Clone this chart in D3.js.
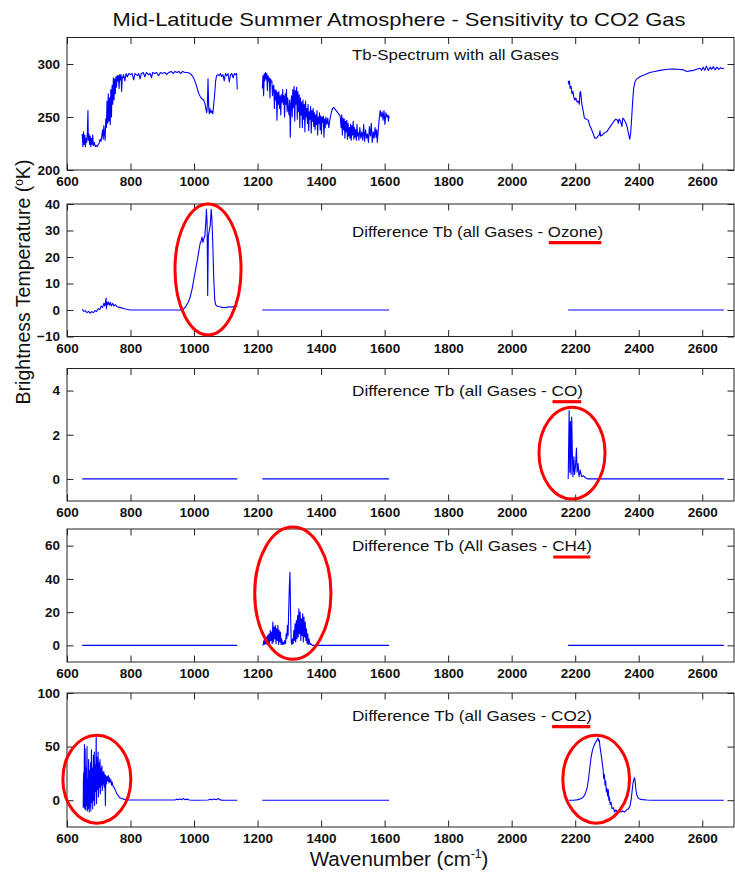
<!DOCTYPE html>
<html>
<head>
<meta charset="utf-8">
<script src="https://cdn.jsdelivr.net/npm/d3@7"></script>
<style>
  body { margin: 0; background: #fff; }
  text { font-family: "Liberation Sans", Arial, sans-serif; fill: #111; }
</style>
</head>
<body>
<div id="chart"></div>
<script>
// ---- data ----
const xTicks = [600, 800, 1000, 1200, 1400, 1600, 1800, 2000, 2200, 2400, 2600];

// Tb spectrum, all gases: three measured bands
const tbBandA = [[648,234],[650,222],[652,236],[654,224],[656,233],[658,222],[660,230],[662,226],[664,235],[666,256],[667,228],[669,234],[671,224],[673,232],[675,222],[677,230],[679,224],[681,233],[683,223],[686,226],[689,222],[692,223],[695,222],[698,224],[701,225],[704,229],[707,227],[710,233],[712,238],[714,229],[716,242],[718,234],[720,228],[722,248],[724,240],[726,265],[728,244],[730,272],[732,246],[734,268],[736,243],[738,276],[740,250],[742,280],[744,262],[746,287],[748,266],[750,286],[752,272],[754,288],[756,278],[758,289],[760,284],[762,289],[764,277],[766,290],[768,285],[770,290],[772,274],[774,288],[776,287],[778,290],[782,284],[786,291],[790,288],[795,291],[800,290],[805,291],[810,285],[814,291],[818,290],[822,289],[826,291],[830,286],[834,291],[840,292],[845,288],[850,292],[856,290],[862,291],[866,287],[870,292],[876,291],[882,292],[888,289],[894,292],[900,291],[908,292],[914,290],[920,292],[928,293],[934,291],[940,293],[946,292],[952,293],[958,291],[964,293],[972,292],[980,292],[988,291],[994,289],[1000,286],[1005,282],[1010,277],[1015,272],[1020,269],[1025,267],[1030,266],[1034,263],[1037,258],[1040,254],[1042,262],[1044,286],[1046,260],[1048,253],[1050,258],[1053,254],[1056,256],[1059,253],[1062,262],[1065,272],[1068,284],[1071,289],[1075,290],[1079,289],[1083,291],[1087,288],[1091,290],[1095,284],[1099,291],[1103,289],[1107,291],[1111,283],[1115,290],[1119,291],[1123,287],[1127,291],[1131,290],[1134,291],[1136,276]];
const tbBandB = [[1215,277],[1217,289],[1219,270],[1221,291],[1223,284],[1225,292],[1227,286],[1229,291],[1231,275],[1233,289],[1235,284],[1237,287],[1239,268],[1241,286],[1243,283],[1245,284],[1247,270],[1249,279],[1251,280],[1253,258],[1255,276],[1257,266],[1259,275],[1261,247],[1263,273],[1265,262],[1267,274],[1269,258],[1271,270],[1273,252],[1275,271],[1277,264],[1279,276],[1281,262],[1283,270],[1285,250],[1287,272],[1289,262],[1291,276],[1293,255],[1295,268],[1297,258],[1299,252],[1301,266],[1303,231],[1305,262],[1307,270],[1309,250],[1311,276],[1313,259],[1315,279],[1317,246],[1319,275],[1321,262],[1323,278],[1325,248],[1327,274],[1329,255],[1331,271],[1333,240],[1335,268],[1337,252],[1339,264],[1341,240],[1343,266],[1345,248],[1347,262],[1349,236],[1351,265],[1353,250],[1355,258],[1357,244],[1359,262],[1361,237],[1363,255],[1365,248],[1367,260],[1369,235],[1371,256],[1373,246],[1375,258],[1377,241],[1379,254],[1381,238],[1383,252],[1385,243],[1387,256],[1389,233],[1391,250],[1393,244],[1395,254],[1397,238],[1399,251],[1401,234],[1403,250],[1405,245],[1407,251],[1409,231],[1411,248],[1413,240],[1415,250],[1418,243],[1421,249],[1424,240],[1428,248],[1432,254],[1436,258],[1440,259],[1445,257],[1450,255],[1455,253],[1460,251],[1463,240],[1465,252],[1467,233],[1469,249],[1471,238],[1473,248],[1475,230],[1477,246],[1479,236],[1481,247],[1483,229],[1485,244],[1487,232],[1489,240],[1491,230],[1493,243],[1495,228],[1497,242],[1499,233],[1501,246],[1503,229],[1505,240],[1507,231],[1509,238],[1511,228],[1513,243],[1515,232],[1517,235],[1519,228],[1522,240],[1525,230],[1528,236],[1531,228],[1534,243],[1537,227],[1540,238],[1543,230],[1546,234],[1549,226],[1552,241],[1555,232],[1558,244],[1561,226],[1564,236],[1567,230],[1570,240],[1573,231],[1575,238],[1577,226],[1580,238],[1583,248],[1586,256],[1589,250],[1592,255],[1595,247],[1598,256],[1601,243],[1604,254],[1607,250],[1610,252],[1612,246],[1614,251]];
const tbBandC = [[2178,284],[2180,281],[2182,284],[2184,277],[2187,279],[2190,272],[2193,274],[2196,268],[2199,266],[2202,268],[2206,264],[2210,265],[2213,262],[2215,273],[2217,274],[2219,268],[2221,262],[2225,256],[2229,249],[2235,248],[2241,247],[2246,242],[2252,238],[2257,234],[2262,230],[2267,230],[2272,232],[2276,233],[2278,237],[2280,232],[2285,233],[2292,235],[2299,236],[2306,239],[2315,243],[2322,246],[2328,248],[2333,247],[2336,244],[2338,248],[2343,246],[2347,241],[2350,249],[2355,247],[2360,244],[2364,240],[2368,234],[2372,229],[2375,236],[2378,250],[2381,265],[2384,277],[2388,283],[2394,286],[2404,288],[2420,290],[2435,292],[2450,293],[2467,294],[2490,295],[2509,295.3],[2525,295],[2540,294.5],[2551,293],[2562,293.5],[2572,294],[2582,295],[2593,296],[2598,294],[2603,297],[2608,294],[2613,298],[2619,294],[2625,297],[2630,295],[2635,297.5],[2640,294.5],[2646,297],[2652,295],[2658,296.5],[2664,295.5],[2668,296]];

// flat (zero difference) bands
const zeroA = [[648,0],[1136,0]];
const zeroB = [[1215,0],[1614,0]];
const zeroC = [[2178,0],[2668,0]];

// difference all gases - ozone
const ozoneBandA = [[648,0.2],[653,-0.5],[658,-0.3],[663,-1],[668,-0.5],[673,-1.2],[678,-0.6],[683,-1],[688,-0.2],[693,-0.6],[698,0.5],[703,0.2],[708,1.5],[712,1],[716,2.5],[719,1.5],[721,3],[723,4.5],[724,0.5],[726,3],[728,2],[731,3],[734,1.8],[737,2.8],[740,1.5],[744,2.5],[748,1.5],[752,2],[758,1.2],[765,1],[772,0.8],[780,0.5],[790,0.2],[800,0],[960,0],[968,0.5],[975,1.5],[982,3],[988,5],[994,8],[1000,12],[1006,16],[1012,20],[1016,23],[1019,25],[1022,26],[1025,27.5],[1028,25.5],[1031,27],[1034,28],[1037,33],[1039,38],[1041,33],[1043,5.5],[1045,28],[1048,30],[1051,32],[1054,38],[1056,35],[1059,25],[1062,12],[1065,4],[1068,2],[1072,1.5],[1080,1.2],[1090,1],[1100,0.9],[1110,1.2],[1120,1.1],[1128,1.5],[1136,1.3]];

// difference all gases - CO
const coBandC = [[2178,0],[2181,3.1],[2183,0.3],[2185,2.6],[2187,0.2],[2189,2.8],[2191,1.2],[2193,0.1],[2196,1.0],[2198,0.2],[2201,0.6],[2204,1.4],[2206,0.3],[2209,0.7],[2212,0.1],[2216,0.4],[2220,0.1],[2226,0.15],[2232,0.05],[2240,0],[2668,0]];

// difference all gases - CH4
const ch4BandB = [[1215,0],[1218,0.5],[1220,3],[1222,0.5],[1224,4],[1226,1],[1228,5],[1230,0.5],[1232,6],[1234,2],[1236,7],[1238,1],[1240,9],[1242,3],[1244,8],[1246,1],[1248,14],[1250,2],[1252,11],[1254,4],[1256,12],[1258,1],[1260,10],[1262,3],[1264,12],[1266,0.5],[1268,9],[1270,2],[1272,8],[1274,0.5],[1276,4],[1278,0.5],[1280,2],[1283,0.5],[1286,3],[1288,1],[1290,7],[1292,4],[1294,12],[1296,6],[1298,21],[1300,35],[1302,44],[1304,18],[1306,2],[1308,0.5],[1310,4],[1312,1],[1314,9],[1316,3],[1318,13],[1320,2],[1322,15],[1324,4],[1326,18],[1328,5],[1330,22],[1332,7],[1334,20],[1336,3],[1338,16],[1340,6],[1342,19],[1344,2],[1346,17],[1348,5],[1350,14],[1352,3],[1354,10],[1356,1],[1358,7],[1360,0.5],[1362,4],[1365,0.5],[1368,1],[1372,0],[1614,0]];

// difference all gases - CO2
const co2BandA = [[651,-7],[652,25],[653,-6],[655,52],[656,-8],[657,48],[659,-9],[660,30],[661,-5],[663,50],[664,-10],[666,20],[667,-8],[668,38],[670,-11],[671,28],[672,-6],[674,35],[675,-10],[677,47],[678,-2],[680,30],[681,-8],[683,42],[684,0],[686,45],[687,-5],[689,33],[690,8],[692,60],[693,-3],[695,40],[696,10],[698,45],[699,3],[701,35],[702,12],[704,38],[705,6],[707,30],[708,14],[710,32],[711,9],[713,26],[714,15],[716,27],[717,12],[719,24],[721,-5],[722,23],[724,15],[726,22],[728,18],[730,23],[732,16],[734,21],[736,17],[738,19],[740,14],[742,17],[745,13],[748,12],[751,10],[754,8],[757,6],[760,5],[764,3],[768,2],[772,1.5],[778,1],[785,0.5],[795,0.3],[810,0.2],[940,0.2],[945,1],[950,0.4],[955,1.2],[960,0.5],[966,1.5],[972,0.4],[978,1],[985,0.2],[1000,0],[1045,0.2],[1050,0.8],[1057,0.4],[1063,1.2],[1070,0.5],[1076,1.6],[1082,0.3],[1090,0],[1136,0]];
const co2BandC = [[2180,0],[2195,0],[2205,0.3],[2215,1],[2222,2],[2228,4],[2233,7],[2238,12],[2242,20],[2246,30],[2250,40],[2254,46],[2258,50],[2261,52],[2264,54],[2267,55],[2270,57],[2272,58],[2274,55],[2276,56],[2278,50],[2280,46],[2283,40],[2286,33],[2288,28],[2290,20],[2292,24],[2294,14],[2296,18],[2298,8],[2300,11],[2302,4],[2304,10],[2306,0],[2308,3],[2310,-4],[2313,-2],[2316,-8],[2320,-7],[2324,-11],[2328,-9],[2332,-11],[2338,-10],[2344,-11],[2350,-10],[2356,-11],[2362,-9],[2368,-8],[2372,-6],[2376,0],[2379,8],[2382,16],[2385,20],[2387,21],[2389,17],[2391,10],[2394,5],[2398,2],[2404,1],[2412,0.5],[2425,0.2],[2440,0],[2668,0]];

const panelSeries = [
  [tbBandA, tbBandB, tbBandC],
  [ozoneBandA, zeroB, zeroC],
  [zeroA, zeroB, coBandC],
  [zeroA, ch4BandB, zeroC],
  [co2BandA, zeroB, co2BandC]
];
const panelLabels = [
  "Tb-Spectrum with all Gases",
  "Difference Tb (all Gases - Ozone)",
  "Difference Tb (all Gases - CO)",
  "Difference Tb (All Gases - CH4)",
  "Difference Tb (all Gases - CO2)"
];
const gasNames = [null, "Ozone", "CO", "CH4", "CO2"];
const yDomains = [[200, 325], [-10, 40], [-1, 5], [-10, 70], [-25, 100]];
const yTicks = [[200, 250, 300], [-10, 0, 10, 20, 30, 40], [0, 2, 4], [0, 20, 40, 60], [0, 50, 100]];

// red ellipses (data units: centre wavenumber, centre value, radii)
const circled = [
  {panel: 1, cx: 1044, cy: 15.3, rx: 104, ry: 24.7},
  {panel: 2, cx: 2190, cy: 1.17, rx: 104, ry: 2.08},
  {panel: 3, cx: 1311, cy: 31.4, rx: 120, ry: 39.8},
  {panel: 4, cx: 694, cy: 19.6, rx: 107, ry: 41},
  {panel: 4, cx: 2266, cy: 19.6, rx: 105, ry: 41}
];

// ---- layout ----
const svgWidth = 735;
const svgHeight = 872;
const left = 67, right = 734;
const panelTop = [37.5, 204, 368.5, 529, 693];
const panelHeight = [132.5, 132.5, 132.5, 133, 134];
const labelDy = [22.5, 32.7, 27.2, 22, 27.7];
const labelWidth = [207, 251, 231, 240, 240];
const labelX = 352;
const tickLen = 6.5;

const svg = d3.select("#chart")
  .append("svg")
  .attr("width", svgWidth)
  .attr("height", svgHeight);

const x = d3.scaleLinear().domain([600, 2700]).range([left, right]);
const line = d3.line();

panelSeries.forEach((bands, i) => {
  const top = panelTop[i];
  const bottom = top + panelHeight[i];
  const y = d3.scaleLinear().domain(yDomains[i]).range([bottom, top]);
  const g = svg.append("g");

  // x ticks inside, labels below
  g.append("g")
    .attr("transform", `translate(0,${bottom})`)
    .call(d3.axisBottom(x).tickValues(xTicks).tickSize(-tickLen).tickPadding(6.5).tickFormat(d3.format("d")))
    .call(a => a.select(".domain").remove());
  g.append("g")
    .attr("transform", `translate(0,${top})`)
    .call(d3.axisTop(x).tickValues(xTicks).tickSize(-tickLen).tickFormat(""))
    .call(a => a.select(".domain").remove());
  g.append("g")
    .attr("transform", `translate(${left},0)`)
    .call(d3.axisLeft(y).tickValues(yTicks[i]).tickSize(-tickLen).tickPadding(7).tickFormat(d3.format("d")))
    .call(a => a.select(".domain").remove());
  g.append("g")
    .attr("transform", `translate(${right},0)`)
    .call(d3.axisRight(y).tickValues(yTicks[i]).tickSize(-tickLen).tickFormat(""))
    .call(a => a.select(".domain").remove());

  g.selectAll(".tick line").attr("stroke", "#222");
  g.selectAll(".tick text")
    .style("font-family", '"Liberation Sans", Arial, sans-serif')
    .style("font-size", "13.5px")
    .style("font-weight", "bold")
    .attr("fill", "#1a1a1a");

  g.append("rect")
    .attr("x", left).attr("y", top)
    .attr("width", right - left).attr("height", bottom - top)
    .attr("fill", "none").attr("stroke", "#222").attr("stroke-width", 1);

  // spectra
  g.selectAll("path.band")
    .data(bands)
    .enter().append("path")
    .attr("class", "band")
    .attr("d", d => line.x(p => x(p[0])).y(p => y(p[1]))(d))
    .attr("fill", "none")
    .attr("stroke", "#0000ff")
    .attr("stroke-width", 1.1)
    .attr("stroke-linejoin", "round");

  // panel label
  const lbl = g.append("text")
    .attr("x", labelX)
    .attr("y", top + labelDy[i])
    .attr("textLength", labelWidth[i])
    .attr("lengthAdjust", "spacingAndGlyphs")
    .style("font-size", "14.5px")
    .text(panelLabels[i]);

  if (gasNames[i]) {
    const s = panelLabels[i].lastIndexOf(gasNames[i]);
    const e = s + gasNames[i].length - 1;
    const node = lbl.node();
    const x0 = node.getStartPositionOfChar(s).x;
    const x1 = node.getEndPositionOfChar(e).x;
    g.append("line")
      .attr("x1", x0 + 1).attr("x2", x1 + 4)
      .attr("y1", top + labelDy[i] + 6).attr("y2", top + labelDy[i] + 6)
      .attr("stroke", "#ff0000").attr("stroke-width", 3.2);
  }

  // red ellipses
  g.selectAll("ellipse")
    .data(circled.filter(c => c.panel === i))
    .enter().append("ellipse")
    .attr("cx", d => x(d.cx))
    .attr("cy", d => y(d.cy))
    .attr("rx", d => x(d.cx + d.rx) - x(d.cx))
    .attr("ry", d => y(d.cy - d.ry) - y(d.cy))
    .attr("fill", "none")
    .attr("stroke", "#ff0000")
    .attr("stroke-width", 3);
});

// title
svg.append("text")
  .attr("x", 112.5)
  .attr("y", 26)
  .attr("textLength", 573)
  .attr("lengthAdjust", "spacingAndGlyphs")
  .style("font-size", "18.5px")
  .text("Mid-Latitude Summer Atmosphere - Sensitivity to CO2 Gas");

// y axis label
const yl = svg.append("text")
  .attr("transform", "translate(30,282) rotate(-90)")
  .attr("text-anchor", "middle")
  .style("font-size", "19.5px");
yl.append("tspan").text("Brightness Temperature (");
yl.append("tspan").attr("dy", -7).style("font-size", "12px").text("o");
yl.append("tspan").attr("dy", 7).text("K)");

// x axis label
const xl = svg.append("text")
  .attr("x", 399)
  .attr("y", 866)
  .attr("text-anchor", "middle")
  .style("font-size", "20.5px");
xl.append("tspan").text("Wavenumber (cm");
xl.append("tspan").attr("dy", -8).style("font-size", "12px").text("-1");
xl.append("tspan").attr("dy", 8).text(")");
</script>
</body>
</html>
